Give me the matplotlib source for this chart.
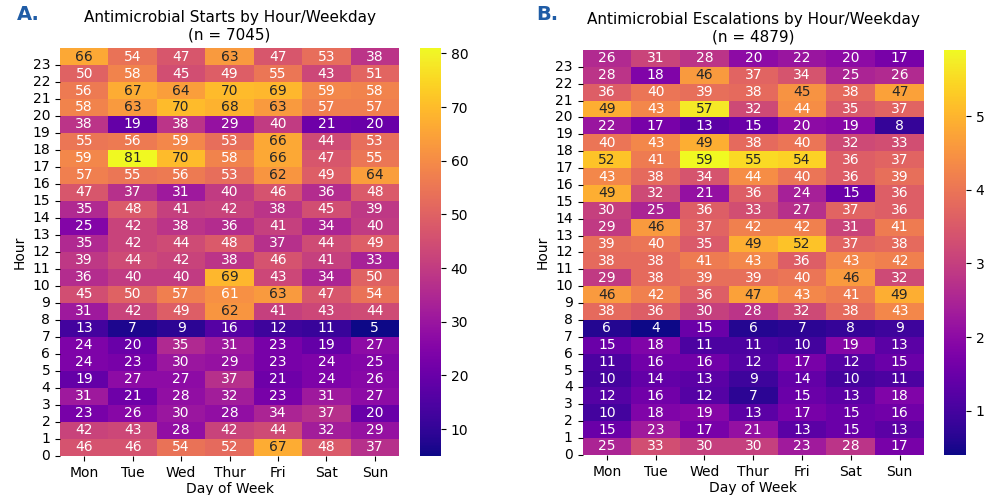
import matplotlib
matplotlib.use('Agg')
import matplotlib.pyplot as plt
import numpy as np
import seaborn as sns

# Day-of-week labels and hours
days = ['Mon', 'Tue', 'Wed', 'Thur', 'Fri', 'Sat', 'Sun']
hours = list(range(24))

# Antimicrobial starts, rows = hour 0..23, cols = Mon..Sun
starts = [
    [46, 46, 54, 52, 67, 48, 37],   # 0
    [42, 43, 28, 42, 44, 32, 29],   # 1
    [23, 26, 30, 28, 34, 37, 20],   # 2
    [31, 21, 28, 32, 23, 31, 27],   # 3
    [19, 27, 27, 37, 21, 24, 26],   # 4
    [24, 23, 30, 29, 23, 24, 25],   # 5
    [24, 20, 35, 31, 23, 19, 27],   # 6
    [13, 7, 9, 16, 12, 11, 5],      # 7
    [31, 42, 49, 62, 41, 43, 44],   # 8
    [45, 50, 57, 61, 63, 47, 54],   # 9
    [36, 40, 40, 69, 43, 34, 50],   # 10
    [39, 44, 42, 38, 46, 41, 33],   # 11
    [35, 42, 44, 48, 37, 44, 49],   # 12
    [25, 42, 38, 36, 41, 34, 40],   # 13
    [35, 48, 41, 42, 38, 45, 39],   # 14
    [47, 37, 31, 40, 46, 36, 48],   # 15
    [57, 55, 56, 53, 62, 49, 64],   # 16
    [59, 81, 70, 58, 66, 47, 55],   # 17
    [55, 56, 59, 53, 66, 44, 53],   # 18
    [38, 19, 38, 29, 40, 21, 20],   # 19
    [58, 63, 70, 68, 63, 57, 57],   # 20
    [56, 67, 64, 70, 69, 59, 58],   # 21
    [50, 58, 45, 49, 55, 43, 51],   # 22
    [66, 54, 47, 63, 47, 53, 38],   # 23
]

# Antimicrobial escalations, rows = hour 0..23
escalations = [
    [25, 33, 30, 30, 23, 28, 17],   # 0
    [15, 23, 17, 21, 13, 15, 13],   # 1
    [10, 18, 19, 13, 17, 15, 16],   # 2
    [12, 16, 12, 7, 15, 13, 18],    # 3
    [10, 14, 13, 9, 14, 10, 11],    # 4
    [11, 16, 16, 12, 17, 12, 15],   # 5
    [15, 18, 11, 11, 10, 19, 13],   # 6
    [6, 4, 15, 6, 7, 8, 9],         # 7
    [38, 36, 30, 28, 32, 38, 43],   # 8
    [46, 42, 36, 47, 43, 41, 49],   # 9
    [29, 38, 39, 39, 40, 46, 32],   # 10
    [38, 38, 41, 43, 36, 43, 42],   # 11
    [39, 40, 35, 49, 52, 37, 38],   # 12
    [29, 46, 37, 42, 42, 31, 41],   # 13
    [30, 25, 36, 33, 27, 37, 36],   # 14
    [49, 32, 21, 36, 24, 15, 36],   # 15
    [43, 38, 34, 44, 40, 36, 39],   # 16
    [52, 41, 59, 55, 54, 36, 37],   # 17
    [40, 43, 49, 38, 40, 32, 33],   # 18
    [22, 17, 13, 15, 20, 19, 8],    # 19
    [49, 43, 57, 32, 44, 35, 37],   # 20
    [36, 40, 39, 38, 45, 38, 47],   # 21
    [28, 18, 46, 37, 34, 25, 26],   # 22
    [26, 31, 28, 20, 22, 20, 17],   # 23
]

titles = ['Antimicrobial Starts by Hour/Weekday\n(n = 7045)',
          'Antimicrobial Escalations by Hour/Weekday\n(n = 4879)']
panel_labels = ['A.', 'B.']

fig = plt.figure(figsize=(9.84, 4.95), dpi=100)

# axes positions in figure fraction
ax_a = fig.add_axes([0.061, 0.079, 0.3445, 0.824])
cax_a = fig.add_axes([0.4268, 0.079, 0.0213, 0.824])
ax_b = fig.add_axes([0.592, 0.081, 0.347, 0.818])
cax_b = fig.add_axes([0.9593, 0.081, 0.0224, 0.818])

for ax, cax, data, title in [(ax_a, cax_a, starts, titles[0]),
                             (ax_b, cax_b, escalations, titles[1])]:
    sns.heatmap(np.array(data), ax=ax, cbar_ax=cax, cmap='plasma',
                annot=True, fmt='d', annot_kws={'fontsize': 10},
                xticklabels=days)
    ax.invert_yaxis()
    # hour ticks sit on the row boundaries
    ax.set_yticks(hours)
    ax.set_yticklabels(hours, rotation=0)
    ax.set_xticklabels(days, rotation=0)
    ax.set_xlabel('Day of Week', labelpad=1.5)
    ax.set_ylabel('Hour')
    ax.set_title(title, fontsize=11)

fig.text(0.017, 0.970, panel_labels[0], color='#1f5ca6', fontsize=14,
         fontweight='bold', va='center')
fig.text(0.545, 0.970, panel_labels[1], color='#1f5ca6', fontsize=14,
         fontweight='bold', va='center')

fig.savefig('out.png', dpi=100)
